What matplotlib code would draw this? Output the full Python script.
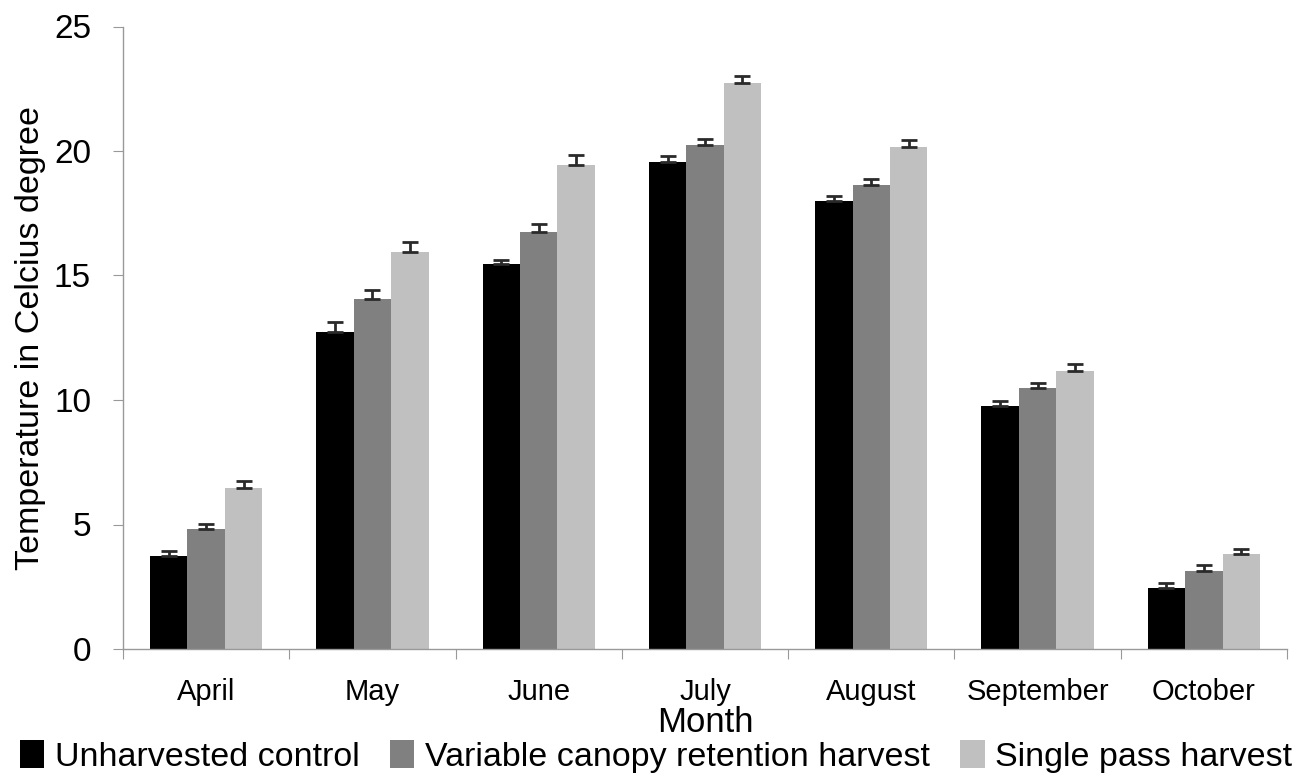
import matplotlib
matplotlib.use("Agg")
import matplotlib.pyplot as plt
import numpy as np

plt.rcParams['font.family'] = ['Liberation Sans', 'DejaVu Sans']

months = ["April", "May", "June", "July", "August", "September", "October"]
series_names = ["Unharvested control", "Variable canopy retention harvest", "Single pass harvest"]
unharvested = [3.75, 12.74, 15.45, 19.55, 17.98, 9.77, 2.46]
variable = [4.8, 14.06, 16.75, 20.24, 18.65, 10.47, 3.14]
single = [6.48, 15.93, 19.44, 22.74, 20.17, 11.18, 3.8]
err_unharvested = [0.2, 0.38, 0.19, 0.23, 0.21, 0.18, 0.18]
err_variable = [0.24, 0.36, 0.3, 0.23, 0.24, 0.2, 0.22]
err_single = [0.28, 0.41, 0.4, 0.28, 0.27, 0.27, 0.23]
colors = ["#000000", "#808080", "#c0c0c0"]
yticks = [0, 5, 10, 15, 20, 25]

fig = plt.figure(figsize=(13.12, 7.81), dpi=100)
ax = fig.add_axes([123/1312, 1-649/781, (1287-123)/1312, (649-26.5)/781])

x = np.arange(len(months))
w = 0.225
data = [unharvested, variable, single]
errs = [err_unharvested, err_variable, err_single]
for i, (vals, e, c, name) in enumerate(zip(data, errs, colors, series_names)):
    pos = x + (i - 1) * w
    ax.bar(pos, vals, width=w, color=c, label=name, zorder=2)
    ax.errorbar(pos, vals, yerr=[np.zeros(len(e)), e], fmt='none',
                ecolor='#2a2a2a', elinewidth=2.0, capsize=5.5, capthick=2.0, zorder=3)

ax.set_xlim(-0.5, len(months) - 0.5)
ax.set_ylim(0, 25)
ax.set_yticks(yticks)
ax.set_yticklabels([str(t) for t in yticks], fontsize=24)
ax.set_xticks(np.arange(-0.5, len(months)), minor=False)
ax.set_xticklabels([])
ax.set_xticks(x, minor=True)
ax.set_xticklabels(months, minor=True, fontsize=21)
ax.tick_params(axis='x', which='major', length=7, color='#999999', direction='out')
ax.tick_params(axis='x', which='minor', length=0, pad=21)
ax.tick_params(axis='y', length=7, color='#999999', direction='out', pad=16)

for s in ['top', 'right']:
    ax.spines[s].set_visible(False)
for s in ['left', 'bottom']:
    ax.spines[s].set_color('#999999')
    ax.spines[s].set_linewidth(1.0)

ax.set_xlabel("Month", fontsize=25, labelpad=0)
ax.set_ylabel("Temperature in Celcius degree", fontsize=24.5)
ax.yaxis.set_label_coords(-0.066, 0.5)

fig.legend(loc='lower center', bbox_to_anchor=(0.5, -0.02), ncol=3, frameon=False,
           fontsize=24.5, handlelength=0.72, handleheight=0.85, handletextpad=0.3,
           columnspacing=0.9, borderpad=0.2)

fig.savefig("out.png", dpi=100)
